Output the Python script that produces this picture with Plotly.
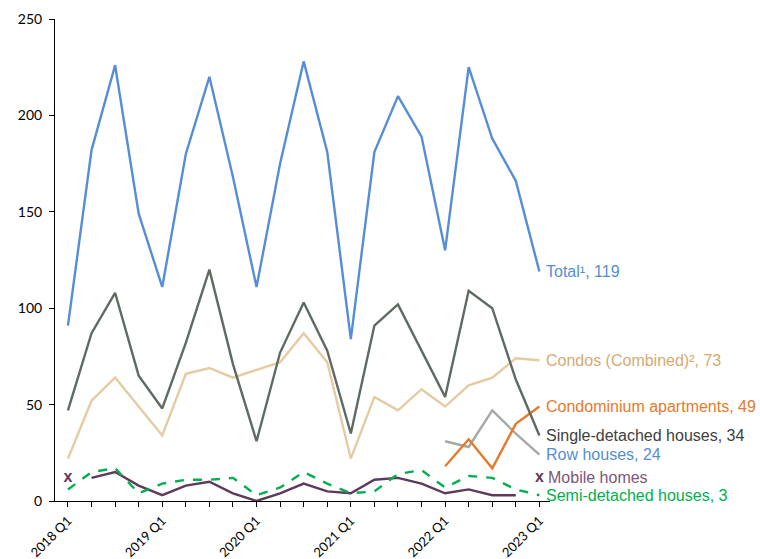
import plotly.graph_objects as go

quarters = [f"{y} Q{q}" for y in range(2018, 2023) for q in range(1, 5)] + ["2023 Q1"]

total = [91, 182, 226, 149, 111, 180, 220, 168, 111, 175, 228, 181, 84, 181, 210, 189, 130, 225, 188, 166, 119]
single_detached = [47, 87, 108, 65, 48, 82, 120, 71, 31, 77, 103, 78, 35, 91, 102, 78, 54, 109, 100, 63, 34]
condos_combined = [22, 52, 64, 49, 34, 66, 69, 64, 68, 72, 87, 72, 22, 54, 47, 58, 49, 60, 64, 74, 73]
condo_apartments = [None] * 16 + [18, 32, 17, 40, 49]
row_houses = [None] * 16 + [31, 28, 47, 35, 24]
mobile_homes = [None, 12, 15, 8, 3, 8, 10, 4, 0, 4, 9, 5, 4, 11, 12, 9, 4, 6, 3, 3, None]
mobile_suppressed = ["2018 Q1", "2023 Q1"]
mobile_suppressed_level = [12, 12]
semi_detached = [6, 15, 17, 4, 9, 11, 11, 12, 3, 7, 15, 9, 4, 5, 14, 16, 7, 13, 12, 6, 3]

tick_text = [q if q.endswith("Q1") else "" for q in quarters]

series = [
    ("Total¹", total, "#558ED5", "solid", "#558ED5"),
    ("Condos (Combined)²", condos_combined, "#E6CBA2", "solid", "#D4AA74"),
    ("Single-detached houses", single_detached, "#5F6B61", "solid", "#404040"),
    ("Condominium apartments", condo_apartments, "#E8792B", "solid", "#E8792B"),
    ("Row houses", row_houses, "#A4AAA4", "solid", "#558ED5"),
    ("Mobile homes", mobile_homes, "#5E3A5A", "solid", "#7A5877"),
    ("Semi-detached houses", semi_detached, "#00B050", "dash", "#00B050"),
]

fig = go.Figure()
draw_order = [5, 6, 4, 3, 1, 2, 0]
for i in draw_order:
    name, vals, col, dash, _ = series[i]
    fig.add_trace(go.Scatter(x=quarters, y=vals, mode="lines", name=name,
                             line=dict(color=col, width=2.4, dash=dash),
                             connectgaps=False, showlegend=False))

fig.add_trace(go.Scatter(x=mobile_suppressed, y=mobile_suppressed_level, mode="text",
                         text=["<b>x</b>", "<b>x</b>"], textposition="middle center",
                         textfont=dict(family="Liberation Sans", size=16, color="#5E3A5A"),
                         showlegend=False))

label_y = {
    "Total¹": total[-1],
    "Condos (Combined)²": condos_combined[-1],
    "Single-detached houses": single_detached[-1],
    "Condominium apartments": condo_apartments[-1],
    "Row houses": row_houses[-1],
    "Mobile homes": mobile_suppressed_level[-1],
    "Semi-detached houses": semi_detached[-1],
}
for name, vals, col, dash, tcol in series:
    if name == "Mobile homes":
        txt = name
        xs = 7
    else:
        txt = f"{name}, {vals[-1]}"
        xs = 5
    fig.add_annotation(x=quarters[-1], y=label_y[name], text=txt, showarrow=False,
                       xanchor="left", yanchor="middle", xshift=xs,
                       font=dict(family="Liberation Sans", size=16, color=tcol))

fig.update_layout(
    width=760, height=559,
    margin=dict(l=55, r=210, t=19, b=58, autoexpand=False),
    paper_bgcolor="white", plot_bgcolor="white",
    font=dict(family="Lato", size=14, color="black"),
)
fig.update_xaxes(type="category", categoryorder="array", categoryarray=quarters,
                 range=[-0.55, 20.45], tickmode="array", tickvals=quarters, ticktext=tick_text,
                 tickangle=-45, ticks="outside", ticklen=5, tickcolor="black", automargin=False,
                 ticklabelstandoff=1,
                 showline=True, linecolor="black", linewidth=1, showgrid=False, zeroline=False,
                 tickfont=dict(family="Lato", size=13, color="black"))
fig.update_yaxes(range=[0, 250], dtick=50, ticks="outside", ticklen=5, tickcolor="black",
                 automargin=False, ticklabelstandoff=4,
                 showline=True, linecolor="black", linewidth=1, showgrid=False, zeroline=False,
                 tickfont=dict(family="Lato", size=14, color="black"))

fig.write_html("out.html")
